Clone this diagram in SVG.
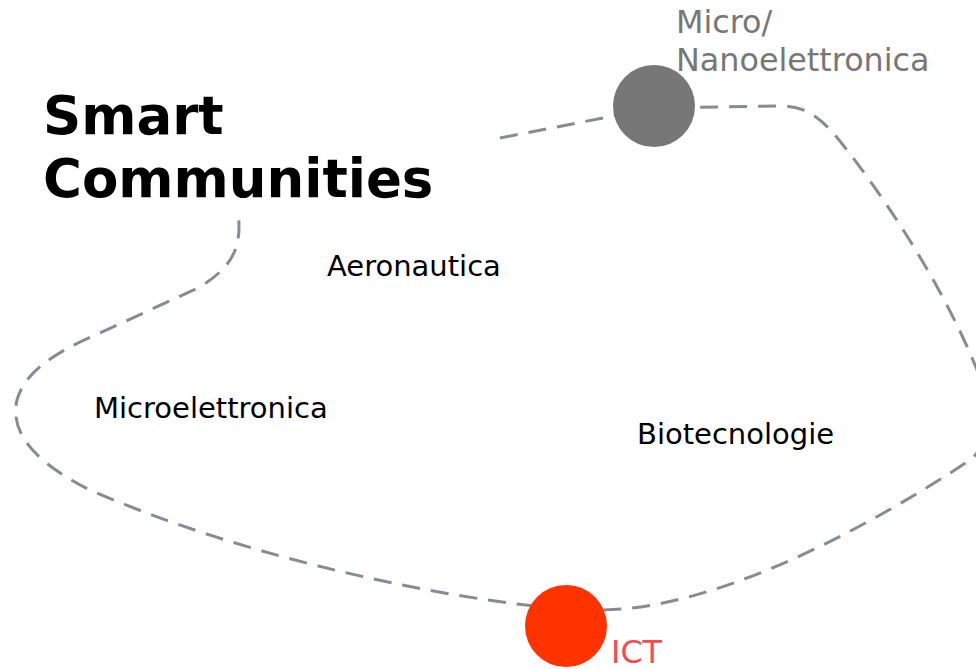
<svg xmlns="http://www.w3.org/2000/svg" width="976" height="669" viewBox="0 0 976 669">
<style>
.t{font-family:"DejaVu Sans","Verdana",sans-serif;font-size:29px;fill:#000}
.big{font-family:"DejaVu Sans","Verdana",sans-serif;font-size:53px;font-weight:bold;fill:#000}
.gl{font-family:"DejaVu Sans","Verdana",sans-serif;font-size:31.8px;fill:#777}
.rl{font-family:"DejaVu Sans","Verdana",sans-serif;font-size:31.8px;fill:#f74a52}
.dash{fill:none;stroke:#848d93;stroke-width:3;stroke-dasharray:18 11}
</style>
<rect width="976" height="669" fill="#fff"/>
<g id="connectors">
<path class="dash" d="M 500,138 L 654,108 L 780,106 C 800,106 815,112 835,135 C 880,190 940,280 975,365 C 990,400 995,440 970,460 C 880,520 720,610 600,610 L 566,609 C 450,600 250,560 90,490 C 30,460 10,430 17,400 C 25,370 60,350 100,333 L 200,287 C 235,265 242,245 238,212"/>
</g>
<g id="title"><text class="big" x="43" y="134">Smart</text><text class="big" x="43" y="197">Communities</text></g>
<g id="aeronautica"><text class="t" x="327" y="276">Aeronautica</text></g>
<g id="microelettronica"><text class="t" x="94" y="418">Microelettronica</text></g>
<g id="biotecnologie"><text class="t" x="637" y="444">Biotecnologie</text></g>
<g id="nano"><circle cx="654" cy="106" r="41" fill="#777"/><text class="gl" x="676" y="33">Micro/</text><text class="gl" x="676" y="71">Nanoelettronica</text></g>
<g id="ict"><circle cx="566" cy="626" r="41" fill="#ff3300"/><text class="rl" x="611" y="663">ICT</text></g>
</svg>
